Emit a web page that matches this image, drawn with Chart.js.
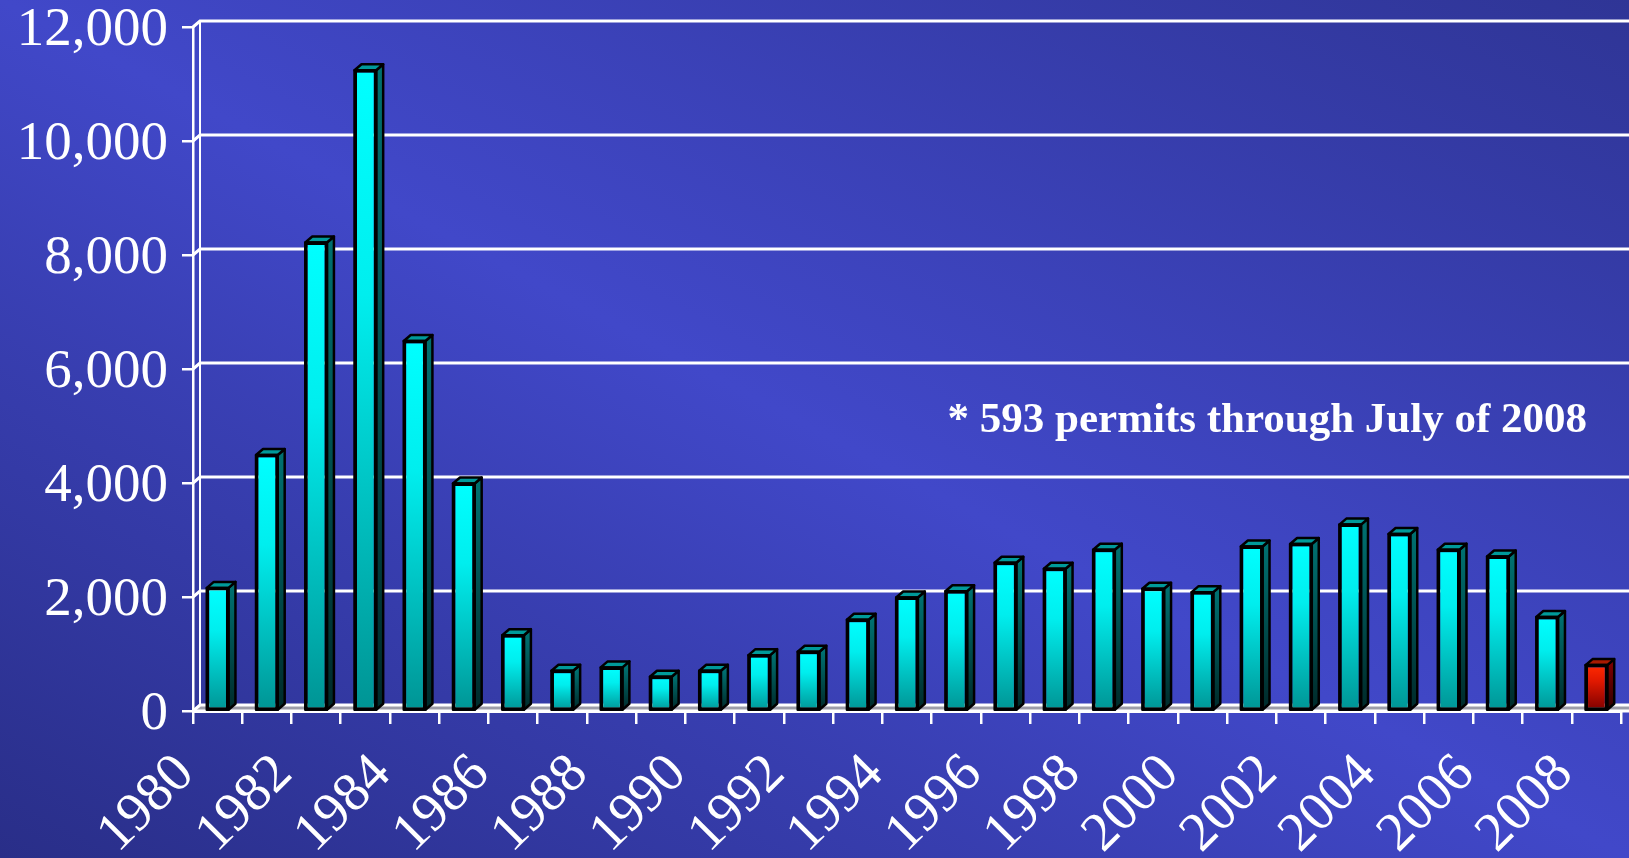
<!DOCTYPE html>
<html>
<head>
<meta charset="utf-8">
<title>Permits by year</title>
<script src="https://cdn.jsdelivr.net/npm/chart.js@4.4.1/dist/chart.umd.min.js"></script>
<style>
  html, body { margin: 0; padding: 0; }
  body {
    width: 1629px; height: 858px; overflow: hidden;
    background: linear-gradient(to top right, #292e88 0%, #4148c9 50%, #2f3596 100%);
  }
  #wrap { position: relative; width: 1629px; height: 858px; }
</style>
</head>
<body>
<div id="wrap"><canvas id="permitChart"></canvas></div>
<script>
// permits issued per year (2008 is partial)
const years = ['1980', '1981', '1982', '1983', '1984', '1985', '1986', '1987', '1988', '1989',
               '1990', '1991', '1992', '1993', '1994', '1995', '1996', '1997', '1998', '1999',
               '2000', '2001', '2002', '2003', '2004', '2005', '2006', '2007', '2008'];
const permits = [2160, 4490, 8220, 11240, 6490, 3990, 1330, 705, 765, 600,
                 705, 980, 1040, 1600, 1990, 2100, 2600, 2495, 2830, 2145,
                 2085, 2885, 2930, 3270, 3105, 2830, 2710, 1650, 805];
const yTicks = [0, 2000, 4000, 6000, 8000, 10000, 12000];
const partialYears = ['2008'];
const note = '* 593 permits through July of 2008';
const noteValue = 4900;

const serif = "'Liberation Serif', 'Times New Roman', serif";
const DX = 7, DY = 6; // depth of the 3d look

function isPartial(i) {
    return partialYears.includes(years[i]);
}

function colorsFor(i) {
    if (isPartial(i)) {
        return { front: ['#ff2a00', '#e01800', '#7a0000'], side: ['#7a0000', '#300000'], top: '#a81a00' };
    }
    return { front: ['#00ffff', '#00eeee', '#009494'], side: ['#007070', '#002a2a'], top: '#009a9a' };
}

function frontFill(context) {
    const chart = context.chart;
    const c = colorsFor(context.dataIndex);
    if (!chart.chartArea || context.type !== 'data') return c.front[0];
    const y = chart.scales.y;
    const top = y.getPixelForValue(context.raw);
    const bottom = y.getPixelForValue(0);
    const g = chart.ctx.createLinearGradient(0, top, 0, bottom);
    g.addColorStop(0, c.front[0]);
    g.addColorStop(0.35, c.front[1]);
    g.addColorStop(1, c.front[2]);
    return g;
}

const box3d = {
    id: 'box3d',
    beforeDatasetsDraw(chart) {
        const { ctx, chartArea, scales: { y } } = chart;
        const base = y.getPixelForValue(0);
        const left = chartArea.left;
        ctx.save();
        // floor
        ctx.fillStyle = '#9c9ca8';
        ctx.beginPath();
        ctx.moveTo(left, base);
        ctx.lineTo(left + DX, base - DY);
        ctx.lineTo(chart.width, base - DY);
        ctx.lineTo(chart.width, base);
        ctx.closePath();
        ctx.fill();
        // back wall grid lines
        ctx.strokeStyle = '#ffffff';
        ctx.lineWidth = 3;
        yTicks.forEach(v => {
            const py = y.getPixelForValue(v);
            ctx.beginPath();
            ctx.moveTo(left, py);
            ctx.lineTo(left + DX, py - DY);
            ctx.lineTo(chart.width, py - DY);
            ctx.stroke();
        });
        ctx.lineWidth = 2;
        ctx.beginPath();
        ctx.moveTo(left + DX, base - DY);
        ctx.lineTo(left + DX, y.getPixelForValue(yTicks[yTicks.length - 1]) - DY);
        ctx.stroke();
        // front edge of the floor
        ctx.lineWidth = 3;
        ctx.beginPath();
        ctx.moveTo(left, base);
        ctx.lineTo(chart.width, base);
        ctx.stroke();
        ctx.restore();
    },
    afterDatasetsDraw(chart) {
        const { ctx } = chart;
        const meta = chart.getDatasetMeta(0);
        ctx.save();
        ctx.lineWidth = 2.5;
        ctx.lineJoin = 'round';
        ctx.strokeStyle = '#000000';
        meta.data.forEach((bar, i) => {
            const { x, y, base, width } = bar.getProps(['x', 'y', 'base', 'width'], true);
            const l = x - width / 2, r = x + width / 2;
            const c = colorsFor(i);
            // side face
            const g = ctx.createLinearGradient(0, y, 0, base);
            g.addColorStop(0, c.side[0]);
            g.addColorStop(1, c.side[1]);
            ctx.fillStyle = g;
            ctx.beginPath();
            ctx.moveTo(r, y);
            ctx.lineTo(r + DX, y - DY);
            ctx.lineTo(r + DX, base - DY);
            ctx.lineTo(r, base);
            ctx.closePath();
            ctx.fill();
            ctx.stroke();
            // top face
            ctx.fillStyle = c.top;
            ctx.beginPath();
            ctx.moveTo(l, y);
            ctx.lineTo(l + DX, y - DY);
            ctx.lineTo(r + DX, y - DY);
            ctx.lineTo(r, y);
            ctx.closePath();
            ctx.fill();
            ctx.stroke();
            // front outline again so it sits on top
            ctx.strokeRect(l, y, width, base - y);
        });
        ctx.restore();
    },
    afterDraw(chart) {
        const { ctx, chartArea, scales: { y } } = chart;
        ctx.save();
        ctx.font = 'bold 43px ' + serif;
        ctx.fillStyle = '#ffffff';
        ctx.textAlign = 'right';
        ctx.textBaseline = 'alphabetic';
        ctx.fillText(note, chartArea.right - 34, y.getPixelForValue(noteValue));
        ctx.restore();
    }
};

// drop the automatic label overhang so the plot area is set by layout.padding only
function noOverhang(scale) {
    scale.paddingLeft = 0;
    scale.paddingRight = 0;
    scale.paddingTop = 0;
    scale.paddingBottom = 0;
}

document.addEventListener('DOMContentLoaded', () => {
    const cv = document.getElementById('permitChart').getContext('2d')

    new Chart(cv, {
        type: 'bar',
        data: {
            labels: years,
            datasets: [{
                label: 'Permits',
                data: permits,
                backgroundColor: frontFill,
                borderColor: '#000000',
                borderWidth: 2.5,
                borderSkipped: false,
                categoryPercentage: 1,
                barPercentage: 0.44
            }]
        },
        options: {
            responsive: true,
            maintainAspectRatio: false,
            animation: false,
            layout: { padding: { top: 27, right: 8, left: 0, bottom: 0 } },
            plugins: {
                legend: { display: false },
                tooltip: { enabled: false }
            },
            scales: {
                x: {
                    grid: { drawOnChartArea: false, color: '#ffffff', lineWidth: 2.5, tickLength: 13 },
                    border: { display: true, color: '#ffffff', width: 3 },
                    ticks: {
                        color: '#ffffff',
                        autoSkip: false,
                        minRotation: 45,
                        maxRotation: 45,
                        padding: 22,
                        labelOffset: -32,
                        font: { family: serif, size: 55, lineHeight: 1 },
                        callback: function (val, i) {
                            return i % 2 === 0 ? years[i] : '';
                        }
                    },
                    afterFit: (scale) => { scale.height = 147; noOverhang(scale); }
                },
                y: {
                    min: 0,
                    max: 12000,
                    grid: { drawOnChartArea: false, color: '#ffffff', lineWidth: 2.5, tickLength: 11 },
                    border: { display: true, color: '#ffffff', width: 2.5 },
                    ticks: {
                        stepSize: 2000,
                        color: '#ffffff',
                        padding: 14,
                        labelOffset: 4,
                        font: { family: serif, size: 55, lineHeight: 1 },
                        callback: (v) => v.toLocaleString('en-US')
                    },
                    afterFit: (scale) => { scale.width = 193; noOverhang(scale); }
                }
            }
        },
        plugins: [box3d]
    })
})
</script>
</body>
</html>
